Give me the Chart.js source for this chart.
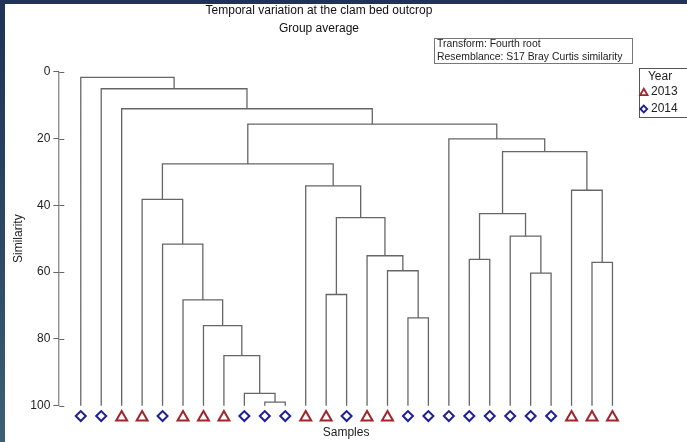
<!DOCTYPE html>
<html>
<head>
<meta charset="utf-8">
<title>Temporal variation at the clam bed outcrop</title>
<script src="https://cdn.jsdelivr.net/npm/chart.js@4.4.1/dist/chart.umd.min.js"></script>
<style>
  html, body { margin: 0; padding: 0; }
  body {
    width: 687px; height: 442px; overflow: hidden; position: relative;
    background: linear-gradient(180deg, #1f3257 0%, #2d4864 55%, #3d6074 100%);
  }
  #panel { position: absolute; left: 5px; top: 4px; right: 0; bottom: 0; background: #fff; }
  #chart { position: absolute; left: 0; top: 0; }
</style>
</head>
<body>
<div id="panel"></div>
<canvas id="chart" width="687" height="442"></canvas>
<script>
// Samples in the order they appear along the bottom of the dendrogram
const sampleYears = [2014, 2014, 2013, 2013, 2014, 2013, 2013, 2013, 2014, 2014, 2014, 2013, 2013, 2014,
  2013, 2013, 2014, 2014, 2014, 2014, 2014, 2014, 2014, 2014, 2013, 2013, 2013];
const legendYears = [2013, 2014];

// Merge steps (hclust style): negative = sample position, positive = earlier step
const mergeLeft = [-10, -9, -8, -7, -6, -5, -4, -13, -17, -16, -15, 8, -12, 7,
  -20, -23, -22, 15, -26, -25, 18, -19, 14, -3, -2, -1];
const mergeRight = [-11, 1, 2, 3, 4, 5, 6, -14, -18, 9, 10, 11, 12, 13,
  -21, -24, 16, 17, -27, 19, 20, 21, 22, 23, 24, 25];
const mergeSimilarity = [98.9, 96.3, 85.0, 76.0, 68.3, 51.6, 38.2, 66.7, 73.7, 59.6, 55.1, 43.7, 34.2, 27.6,
  56.2, 60.3, 49.2, 42.5, 57.1, 35.5, 23.9, 20.1, 15.7, 11.1, 5.1, 1.7];

const similarityTicks = [0, 20, 40, 60, 80, 100];
const titleLines = ['Temporal variation at the clam bed outcrop', 'Group average'];
const noteLines = ['Transform: Fourth root', 'Resemblance: S17 Bray Curtis similarity'];

const FONT = 'Liberation Sans, Arial, sans-serif';
const LINE_COLOR = '#666';
const yearStyle = {
  2013: { shape: 'triangle', color: '#a3232a', radius: 6.3, offset: 103.5 },
  2014: { shape: 'rectRot', color: '#1e1e96', radius: 5, offset: 103.1 }
};

// build the link polylines from the merge table
const nodeX = [];
const nodeY = [];
function childPos(c) {
  return c < 0 ? { x: -c, y: 100 } : { x: nodeX[c - 1], y: nodeY[c - 1] };
}
const linkPoints = [];
mergeLeft.forEach((l, k) => {
  const a = childPos(l);
  const b = childPos(mergeRight[k]);
  const h = mergeSimilarity[k];
  nodeX[k] = (a.x + b.x) / 2;
  nodeY[k] = h;
  linkPoints.push({ x: a.x, y: a.y }, { x: a.x, y: h }, { x: b.x, y: h }, { x: b.x, y: b.y }, { x: b.x, y: null });
});

function markerData(year) {
  return sampleYears
    .map((y, i) => (y === year ? { x: i + 1, y: yearStyle[year].offset } : null))
    .filter(Boolean);
}

const datasets = [{
  label: 'links',
  data: linkPoints,
  showLine: true,
  spanGaps: false,
  borderColor: LINE_COLOR,
  borderWidth: 1.3,
  pointRadius: 0,
  tension: 0
}];
legendYears.forEach(year => {
  const st = yearStyle[year];
  datasets.push({
    label: String(year),
    data: markerData(year),
    pointStyle: st.shape,
    pointRadius: st.radius,
    pointBorderColor: st.color,
    pointBackgroundColor: 'rgba(255,255,255,0)',
    pointBorderWidth: 2,
    clip: false
  });
});

function drawShape(ctx, shape, x, y, r) {
  ctx.beginPath();
  if (shape === 'triangle') {
    ctx.moveTo(x, y - r);
    ctx.lineTo(x + r * 0.866, y + r / 2);
    ctx.lineTo(x - r * 0.866, y + r / 2);
  } else {
    ctx.moveTo(x - r, y);
    ctx.lineTo(x, y - r);
    ctx.lineTo(x + r, y);
    ctx.lineTo(x, y + r);
  }
  ctx.closePath();
  ctx.stroke();
}

// y axis line (0..100 only), tick stubs, axis title, note and legend boxes
const extras = {
  id: 'extras',
  afterDraw(chart) {
    const ctx = chart.ctx;
    const s = chart.scales.y;
    const top = s.getPixelForValue(similarityTicks[0]);
    const bottom = s.getPixelForValue(similarityTicks[similarityTicks.length - 1]);
    ctx.save();
    ctx.strokeStyle = LINE_COLOR;
    ctx.lineWidth = 1;
    ctx.beginPath();
    ctx.moveTo(s.right - 0.5, top);
    ctx.lineTo(s.right - 0.5, bottom);
    ctx.stroke();
    s.ticks.forEach(t => {
      const y = Math.round(s.getPixelForValue(t.value)) + 0.5;
      ctx.beginPath();
      ctx.moveTo(s.right, y);
      ctx.lineTo(s.right + 5, y);
      ctx.stroke();
    });

    // axis title, centred on the 0..100 span
    ctx.fillStyle = '#222';
    ctx.font = '12px ' + FONT;
    ctx.textAlign = 'center';
    ctx.textBaseline = 'middle';
    ctx.translate(18.3, (top + bottom) / 2);
    ctx.rotate(-Math.PI / 2);
    ctx.fillText('Similarity', 0, 0);
    ctx.setTransform(1, 0, 0, 1, 0, 0);

    // note box
    ctx.strokeStyle = '#777';
    ctx.strokeRect(434.5, 38.5, 198, 25);
    ctx.font = '10.4px ' + FONT;
    ctx.textAlign = 'left';
    noteLines.forEach((t, i) => ctx.fillText(t, 437, 44.5 + i * 12.5));

    // legend box
    ctx.strokeStyle = '#555';
    ctx.strokeRect(639.5, 68.5, 60, 49);
    ctx.font = '12px ' + FONT;
    ctx.textAlign = 'center';
    ctx.fillText('Year', 660, 77);
    ctx.textAlign = 'left';
    legendYears.forEach((year, i) => {
      const st = yearStyle[year];
      const y = 92 + i * 17;
      ctx.strokeStyle = st.color;
      ctx.lineWidth = 1.8;
      drawShape(ctx, st.shape, 643.8, st.shape === 'triangle' ? y + 1 : y, st.shape === 'triangle' ? 4.3 : 3.4);
      ctx.fillStyle = '#222';
      ctx.fillText(String(year), 651, y);
    });
    ctx.restore();
  }
};

new Chart(document.getElementById('chart'), {
  type: 'scatter',
  data: { datasets },
  options: {
    responsive: false,
    animation: false,
    events: [],
    layout: { padding: { left: 5, right: 54.1, top: 0, bottom: 0 } },
    plugins: {
      legend: { display: false },
      tooltip: { enabled: false },
      title: {
        display: true,
        text: titleLines,
        color: '#111',
        font: { family: FONT, size: 12, weight: 'normal', lineHeight: 1.5 },
        padding: { top: 2, bottom: 33.7 }
      }
    },
    scales: {
      x: {
        type: 'linear',
        min: -0.05,
        max: 28,
        afterFit: s => { s.height = 19.6; },
        ticks: { display: false },
        grid: { display: false, drawTicks: false },
        border: { display: false },
        title: {
          display: true,
          text: 'Samples',
          color: '#222',
          font: { family: FONT, size: 12 },
          padding: { top: 0, bottom: 2.2 }
        }
      },
      y: {
        type: 'linear',
        reverse: true,
        min: 0,
        max: 105,
        afterFit: s => { s.width = 54.3; },
        afterBuildTicks: s => { s.ticks = similarityTicks.map(v => ({ value: v })); },
        ticks: { color: '#222', font: { family: FONT, size: 12 }, padding: 3 },
        grid: { display: true, drawOnChartArea: false, drawTicks: true, tickLength: 6, color: LINE_COLOR },
        border: { display: false }
      }
    }
  },
  plugins: [extras]
});
</script>
</body>
</html>
